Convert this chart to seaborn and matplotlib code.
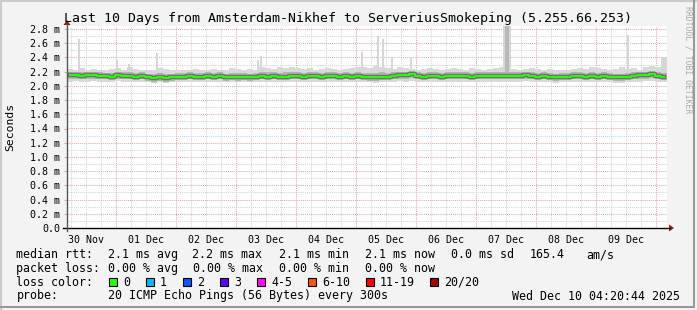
import numpy as np
import pandas as pd
import matplotlib
matplotlib.use("Agg")
import matplotlib.pyplot as plt
from matplotlib.lines import Line2D
from matplotlib.patches import Rectangle, Polygon
import seaborn as sns

# ---------------- data (ms) ----------------
median_ms = [
    2.15, 2.15, 2.14, 2.15, 2.15, 2.14, 2.14, 2.13, 2.15, 2.14,
    2.14, 2.13, 2.14, 2.12, 2.11, 2.12, 2.11, 2.12, 2.13, 2.13,
    2.14, 2.13, 2.13, 2.14, 2.13, 2.14, 2.12, 2.13, 2.12, 2.13,
    2.12, 2.13, 2.14, 2.13, 2.14, 2.13, 2.13, 2.14, 2.14, 2.13,
    2.14, 2.14, 2.13, 2.14, 2.14, 2.13, 2.14, 2.13, 2.14, 2.13,
    2.12, 2.12, 2.13, 2.13, 2.14, 2.15, 2.15, 2.16, 2.14, 2.13,
    2.14, 2.14, 2.13, 2.14, 2.14, 2.14, 2.14, 2.13, 2.14, 2.14,
    2.14, 2.14, 2.14, 2.14, 2.14, 2.14, 2.15, 2.14, 2.13, 2.14,
    2.13, 2.12, 2.13, 2.13, 2.14, 2.14, 2.13, 2.14, 2.13, 2.14,
    2.13, 2.12, 2.12, 2.13, 2.14, 2.15, 2.15, 2.16, 2.14, 2.13,
]
smoke_outer_top = [
    2.24, 2.23, 2.25, 2.23, 2.24, 2.22, 2.23, 2.24, 2.25, 2.23,
    2.26, 2.24, 2.23, 2.22, 2.23, 2.25, 2.24, 2.23, 2.22, 2.23,
    2.23, 2.24, 2.22, 2.23, 2.24, 2.22, 2.23, 2.25, 2.24, 2.23,
    2.24, 2.23, 2.26, 2.25, 2.24, 2.27, 2.25, 2.26, 2.25, 2.24,
    2.25, 2.23, 2.24, 2.25, 2.24, 2.23, 2.24, 2.25, 2.27, 2.26,
    2.25, 2.28, 2.26, 2.25, 2.24, 2.26, 2.25, 2.24, 2.23, 2.24,
    2.25, 2.24, 2.23, 2.24, 2.25, 2.24, 2.23, 2.25, 2.24, 2.23,
    2.24, 2.25, 2.26, 2.27, 2.24, 2.23, 2.24, 2.25, 2.24, 2.23,
    2.24, 2.23, 2.22, 2.23, 2.24, 2.25, 2.24, 2.26, 2.25, 2.24,
    2.23, 2.24, 2.26, 2.24, 2.25, 2.23, 2.26, 2.28, 2.27, 2.24,
]
smoke_outer_bot = [
    2.06, 2.07, 2.06, 2.06, 2.07, 2.06, 2.05, 2.06, 2.07, 2.06,
    2.06, 2.05, 2.06, 2.05, 2.04, 2.05, 2.04, 2.05, 2.06, 2.06,
    2.06, 2.05, 2.06, 2.06, 2.05, 2.06, 2.05, 2.06, 2.05, 2.06,
    2.05, 2.06, 2.06, 2.05, 2.06, 2.06, 2.05, 2.06, 2.06, 2.05,
    2.06, 2.06, 2.05, 2.06, 2.06, 2.05, 2.06, 2.05, 2.06, 2.05,
    2.05, 2.04, 2.05, 2.06, 2.06, 2.07, 2.06, 2.07, 2.06, 2.05,
    2.06, 2.06, 2.05, 2.06, 2.06, 2.06, 2.05, 2.05, 2.06, 2.06,
    2.06, 2.06, 2.05, 2.06, 2.06, 2.06, 2.07, 2.06, 2.05, 2.06,
    2.05, 2.04, 2.05, 2.05, 2.06, 2.06, 2.05, 2.06, 2.05, 2.06,
    2.05, 2.04, 2.04, 2.05, 2.06, 2.06, 2.07, 2.07, 2.06, 2.05,
]
smoke_mid_top = [
    2.20, 2.19, 2.19, 2.20, 2.19, 2.19, 2.18, 2.18, 2.20, 2.19,
    2.19, 2.18, 2.19, 2.17, 2.17, 2.18, 2.17, 2.17, 2.18, 2.18,
    2.19, 2.18, 2.18, 2.19, 2.18, 2.19, 2.17, 2.18, 2.18, 2.18,
    2.17, 2.18, 2.19, 2.19, 2.19, 2.18, 2.19, 2.19, 2.19, 2.18,
    2.19, 2.19, 2.18, 2.19, 2.19, 2.18, 2.19, 2.18, 2.19, 2.18,
    2.18, 2.18, 2.19, 2.18, 2.19, 2.20, 2.20, 2.21, 2.19, 2.18,
    2.19, 2.19, 2.18, 2.19, 2.19, 2.19, 2.19, 2.18, 2.19, 2.19,
    2.19, 2.19, 2.19, 2.20, 2.19, 2.19, 2.20, 2.19, 2.18, 2.19,
    2.18, 2.17, 2.18, 2.18, 2.19, 2.19, 2.18, 2.19, 2.18, 2.19,
    2.18, 2.17, 2.17, 2.18, 2.19, 2.20, 2.20, 2.21, 2.19, 2.18,
]
smoke_mid_bot = [
    2.09, 2.10, 2.09, 2.10, 2.10, 2.09, 2.09, 2.08, 2.10, 2.09,
    2.09, 2.08, 2.09, 2.07, 2.06, 2.07, 2.06, 2.07, 2.08, 2.08,
    2.09, 2.08, 2.08, 2.09, 2.08, 2.09, 2.07, 2.08, 2.07, 2.08,
    2.07, 2.08, 2.09, 2.08, 2.09, 2.08, 2.08, 2.09, 2.09, 2.08,
    2.09, 2.09, 2.08, 2.09, 2.09, 2.08, 2.09, 2.08, 2.09, 2.08,
    2.07, 2.07, 2.08, 2.08, 2.09, 2.10, 2.10, 2.11, 2.09, 2.08,
    2.09, 2.09, 2.08, 2.09, 2.09, 2.09, 2.09, 2.08, 2.09, 2.09,
    2.09, 2.09, 2.09, 2.09, 2.09, 2.09, 2.10, 2.09, 2.08, 2.09,
    2.08, 2.07, 2.08, 2.08, 2.09, 2.09, 2.08, 2.09, 2.08, 2.09,
    2.08, 2.07, 2.07, 2.08, 2.09, 2.10, 2.10, 2.11, 2.09, 2.08,
]
# isolated max-ping spikes: start hour, width (hours), top (ms)
spike_start = [4.4, 19.6, 24.4, 35.6, 76.0, 77.2, 117.6, 124.0, 126.0, 129.6, 137.2, 174.4, 224.0, 237.6]
spike_width = [0.8, 0.8, 0.8, 0.8, 0.8, 0.8, 0.8, 0.8, 0.8, 0.8, 0.8, 3.2, 0.8, 2.4]
spike_top = [2.66, 2.36, 2.31, 2.46, 2.37, 2.42, 2.47, 2.70, 2.66, 2.40, 2.39, 2.84, 2.72, 2.40]

day_labels = ["30 Nov", "01 Dec", "02 Dec", "03 Dec", "04 Dec",
              "05 Dec", "06 Dec", "07 Dec", "08 Dec", "09 Dec"]
y_ticks = [0.0, 0.2, 0.4, 0.6, 0.8, 1.0, 1.2, 1.4, 1.6, 1.8, 2.0, 2.2, 2.4, 2.6, 2.8]

title = "Last 10 Days from Amsterdam-Nikhef to ServeriusSmokeping (5.255.66.253)"

# time grid: 100 bins of 2.4 h over the 240 h window; window ends 04:20
bin_hours = 2.4
hours = bin_hours * (np.arange(len(median_ms)) + 0.5)
end_offset = 4 + 20 / 60  # hours after last midnight
midnights = [240 - end_offset - 24 * k for k in range(10)][::-1]
noons = [m - 12 for m in midnights]

df = pd.DataFrame({"hours": hours, "median": median_ms})

# ---------------- figure ----------------
W, H = 697, 310
fig = plt.figure(figsize=(W / 100, H / 100), dpi=100)
fig.patch.set_facecolor("#f3f3f3")
mono = "DejaVu Sans Mono"

def px(x, y):
    return x / W, 1 - y / H

x0, x1 = 67, 667
y_zero = 228
ppu = 199 / 2.8
ymax = 2.84
ax = fig.add_axes([x0 / W, (H - y_zero) / H, (x1 - x0) / W, ymax * ppu / H])
ax.set_facecolor("white")
ax.set_xlim(0, 240)
ax.set_ylim(0, ymax)
for s in ax.spines.values():
    s.set_visible(False)

# grid
dot = (0, (1, 1))
for h in np.arange(midnights[0] - 18, 240, 6):
    if h < 0:
        continue
    is_major = any(abs(h - m) < 1e-6 for m in midnights)
    ax.axvline(h, color="#e2a8a8" if is_major else "#d4d4d4", lw=0.75,
               ls=dot, zorder=1)
for v in np.arange(0.1, 2.85, 0.1):
    is_major = abs(round(v * 10) % 2) < 1e-6
    ax.axhline(v, color="#e2a8a8" if is_major else "#d4d4d4", lw=0.75,
               ls=dot, zorder=1)

edges = np.append(hours - bin_hours / 2, hours[-1] + bin_hours / 2)

def band(lo, hi, color, z):
    lo_e = np.append(lo, lo[-1])
    hi_e = np.append(hi, hi[-1])
    ax.fill_between(edges, lo_e, hi_e, step="post", color=color, lw=0, zorder=z)

band(np.array(smoke_outer_bot), np.array(smoke_outer_top), "#d8d8d8", 2)
band(np.array(smoke_mid_bot), np.array(smoke_mid_top), "#b2b2b2", 3)

# spikes
ax.bar(spike_start, np.array(spike_top) - 2.2, bottom=2.2, width=spike_width,
       align="edge", color="#d6d6d6", lw=0, zorder=2)
ax.bar([175.2], [2.84 - 2.2], bottom=2.2, width=[1.6], align="edge",
       color="#b8b8b8", lw=0, zorder=2)

# dark core + green median
sns.lineplot(data=df, x="hours", y="median", ax=ax, drawstyle="steps-mid",
             color="#707070", lw=3.2, estimator=None, zorder=4, legend=False)
sns.lineplot(data=df, x="hours", y="median", ax=ax, drawstyle="steps-mid",
             color="#26ff00", lw=1.5, estimator=None, zorder=5, legend=False)
ax.set_xlabel("")
ax.set_ylabel("")

# ticks
ax.set_yticks(y_ticks)
ax.set_yticklabels(["0.0"] + [f"{v:.1f} m" for v in y_ticks[1:]],
                   fontfamily=mono, fontsize=7.2)
ax.tick_params(axis="y", length=2, width=0.8, color="#e2a8a8", pad=3)
ax.set_xticks(noons)
ax.set_xticklabels(day_labels, fontfamily=mono, fontsize=7.2)
ax.tick_params(axis="x", length=0, pad=5)
ax.set_xlim(0, 240)

# axes lines with arrows
fig.add_artist(Line2D([63 / W, 670 / W], [1 - y_zero / H] * 2, color="black", lw=1.0))
fig.add_artist(Line2D([x0 / W] * 2, [1 - 231 / H, 1 - 24 / H], color="#555555", lw=1.0))
fig.add_artist(Polygon([px(669, 224.5), px(669, 231.5), px(674, 228)], closed=True,
                       color="#8b1a1a", lw=0))
fig.add_artist(Polygon([px(63.5, 25), px(70.5, 25), px(67, 20)], closed=True,
                       color="#8b1a1a", lw=0))

# texts
fig.text(*px(347.5, 18.5), title, ha="center", va="center", fontfamily=mono,
         fontsize=9.55, color="black")
fig.text(*px(10, 127), "Seconds", rotation=90, ha="center", va="center",
         fontfamily=mono, fontsize=8.2)
fig.text(*px(688, 6), "RRDTOOL / TOBI OETIKER", rotation=270, ha="center",
         va="top", fontfamily=mono, fontsize=5.9, color="#a8a8a8")

fs = 8.37
rows = [254.5, 268.3, 282.3, 296]
def t(x, y, s, **kw):
    fig.text(*px(x, y), s, ha=kw.pop("ha", "left"), va="center",
             fontfamily=mono, fontsize=fs, **kw)

t(16.4, rows[0], "median rtt:")
for x, s in [(107.6, "2.1 ms avg"), (192, "2.2 ms max"), (279, "2.1 ms min"),
             (365, "2.1 ms now"), (451, "0.0 ms sd"), (530, "165.4"), (586, "am/s")]:
    t(x, rows[0], s)
t(16.4, rows[1], "packet loss:")
for x, s in [(107.6, "0.00 % avg"), (193, "0.00 % max"), (279, "0.00 % min"),
             (365, "0.00 % now")]:
    t(x, rows[1], s)
t(16.4, rows[2], "loss color:")
loss_items = [("0", "#26ff00", 109), ("1", "#00b8ff", 145.5), ("2", "#0059ff", 182.5),
              ("3", "#5e00ff", 219.5), ("4-5", "#ff00ff", 256.5), ("6-10", "#ff5500", 308),
              ("11-19", "#ff0000", 365.5), ("20/20", "#a10000", 430)]
for lab, col, bx in loss_items:
    fx, fy = px(bx, rows[2] + 4)
    fig.add_artist(Rectangle((fx, fy), 8 / W, 8 / H, transform=fig.transFigure,
                             facecolor=col, edgecolor="black", lw=0.8))
    t(bx + 14.5, rows[2], lab)
t(16.4, rows[3], "probe:")
t(107.6, rows[3], "20 ICMP Echo Pings (56 Bytes) every 300s")
t(680, rows[3], "Wed Dec 10 04:20:44 2025", ha="right")

# 3D border
fig.add_artist(Line2D([0.5 / W, 0.5 / W], [0, 1], color="#cbcbcb", lw=1.5))
fig.add_artist(Line2D([0, 1], [1 - 0.5 / H] * 2, color="#cbcbcb", lw=1.5))
fig.add_artist(Line2D([1 - 3.5 / W] * 2, [3.5 / H, 1], color="#999999", lw=1.5))
fig.add_artist(Line2D([0, 1 - 3.5 / W], [3.5 / H] * 2, color="#999999", lw=1.5))

fig.savefig("out.png", dpi=100, facecolor=fig.get_facecolor())
